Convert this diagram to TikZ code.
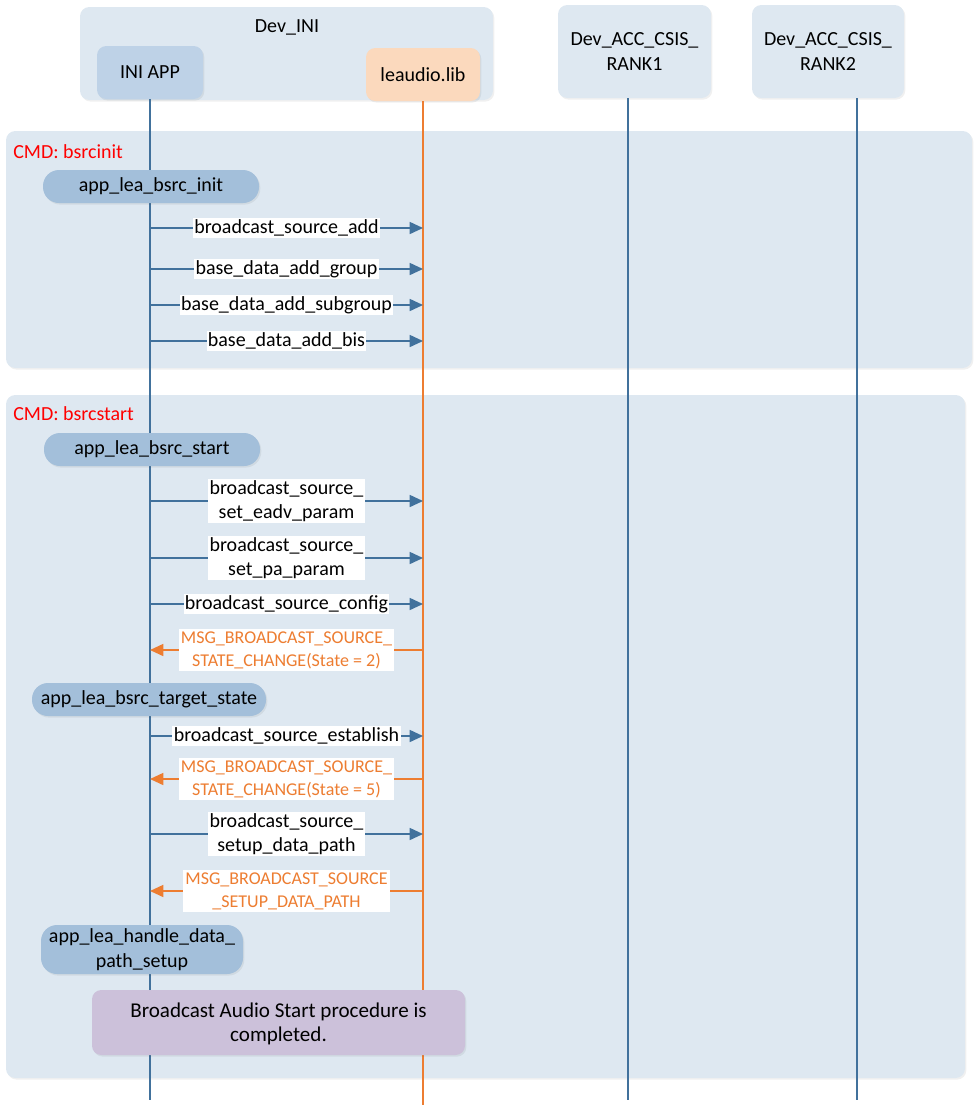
\documentclass[tikz,border=0pt]{standalone}
\usepackage{fontspec}
\setmainfont{Carlito}
\usetikzlibrary{arrows.meta,shadows,fit}
\definecolor{secfill}{HTML}{DEE8F1}
\definecolor{pillfill}{HTML}{A3BFDA}
\definecolor{appfill}{HTML}{BED2E7}
\definecolor{libfill}{HTML}{FBD9BD}
\definecolor{lblue}{HTML}{41719C}
\definecolor{lorange}{HTML}{ED7D31}
\definecolor{purpfill}{HTML}{CCC1DA}
\definecolor{cmdred}{HTML}{FF0000}
\begin{document}
\begin{tikzpicture}[x=0.75pt,y=-0.75pt,
  every node/.style={font=\fontsize{15}{18}\selectfont, inner sep=0pt, text=black},
  shad/.style={drop shadow={shadow xshift=1pt, shadow yshift=-1.2pt, fill=black, opacity=0.06}},
  grp/.style={fill=secfill, rounded corners=7pt, draw=none, shad},
  appbox/.style={fill=appfill, rounded corners=7pt, draw=none, shad},
  libbox/.style={fill=libfill, rounded corners=7pt, draw=none, shad},
  pill/.style={fill=pillfill, rounded corners=12pt, draw=none, shad},
  donebox/.style={fill=purpfill, rounded corners=7pt, draw=none, shad},
  life/.style={draw=lblue, line width=1.2pt},
  lifeo/.style={draw=lorange, line width=1.2pt},
  msg/.style={draw=lblue, line width=1.2pt, -{Triangle[length=10pt,width=9pt]}},
  msgo/.style={draw=lorange, line width=1.2pt, -{Triangle[length=10pt,width=9pt]}},
  lbl/.style={fill=white, inner xsep=1pt, inner ysep=1pt, align=center, font=\fontsize{15}{18}\selectfont},
  lblo/.style={fill=white, inner xsep=1.5pt, inner ysep=1.5pt, align=center, text=lorange, font=\fontsize{13.5}{17.2}\selectfont},
  cmd/.style={anchor=west, text=cmdred},
]
\useasboundingbox (0,0) rectangle (979,1107);

% headers
\node[grp, fit={(80,7) (493,100)}] (devini) {};
\node (devinilbl) at (287,27) {Dev\_INI};
\node[appbox, fit={(97,46) (203,99)}] (iniapp) {};
\node at (iniapp.center) {INI APP};
\node[libbox, fit={(366,48) (480,101)}] (lib) {};
\node at (lib.center) {leaudio.lib};
\node[grp, fit={(558,5) (711,98)}] (rank1) {};
\node[align=center, font=\fontsize{15}{19}\selectfont] at (rank1.center) {Dev\_ACC\_CSIS\_\\RANK1};
\node[grp, fit={(752,5) (904,98)}] (rank2) {};
\node[align=center, font=\fontsize{15}{19}\selectfont] at (rank2.center) {Dev\_ACC\_CSIS\_\\RANK2};

% sections
\node[grp, fit={(6,131) (972,368)}] (sec1) {};
\node[cmd] (cmd1) at (13,152) {CMD: bsrcinit};
\node[grp, fit={(6,395) (965,1078)}] (sec2) {};
\node[cmd] (cmd2) at (13,414) {CMD: bsrcstart};

% lifelines
\coordinate (iniBot) at (150,1100);
\coordinate (libBot) at (423,1105);
\coordinate (r1Top) at (628,98);
\coordinate (r1Bot) at (628,1100);
\coordinate (r2Top) at (857,98);
\coordinate (r2Bot) at (857,1100);
\draw[life] (iniapp.south) -- (iniBot);
\draw[lifeo] (lib.south) -- (libBot);
\draw[life] (r1Top) -- (r1Bot);
\draw[life] (r2Top) -- (r2Bot);

% activity pills
\node[pill, fit={(43,170) (259,203)}] (p1) {};
\node at (p1.center) {app\_lea\_bsrc\_init};
\node[pill, fit={(44,433) (260,466)}] (p2) {};
\node at (p2.center) {app\_lea\_bsrc\_start};
\node[pill, fit={(32,683) (266,716)}] (p3) {};
\node at (p3.center) {app\_lea\_bsrc\_target\_state};
\node[pill, fit={(41,925) (243,974)}] (p4) {};
\node[align=center, font=\fontsize{15}{18.75}\selectfont] at (p4.center) {app\_lea\_handle\_data\_\\path\_setup};
\node[donebox, fit={(92,990) (465,1055)}] (done) {};
\node[align=center, font=\fontsize{15.8}{18.3}\selectfont] at ([yshift=-1pt]done.center) {Broadcast Audio Start procedure is\\completed.};

% messages
\foreach \n/\y in {1/228,2/269,3/305,4/341,5/501,6/558,7/604,8/650,9/736,10/779,11/834,12/891}{
  \coordinate (a\n) at (150,\y);
  \coordinate (b\n) at (423,\y);
}
\draw[msg] (a1) -- node[lbl] (m1) {broadcast\_source\_add} (b1);
\draw[msg] (a2) -- node[lbl] (m2) {base\_data\_add\_group} (b2);
\draw[msg] (a3) -- node[lbl] (m3) {base\_data\_add\_subgroup} (b3);
\draw[msg] (a4) -- node[lbl] (m4) {base\_data\_add\_bis} (b4);
\draw[msg] (a5) -- node[lbl] (m5) {broadcast\_source\_\\set\_eadv\_param} (b5);
\draw[msg] (a6) -- node[lbl] (m6) {broadcast\_source\_\\set\_pa\_param} (b6);
\draw[msg] (a7) -- node[lbl] (m7) {broadcast\_source\_config} (b7);
\draw[msgo] (b8) -- node[lblo] (m8) {MSG\_BROADCAST\_SOURCE\_\\STATE\_CHANGE(State = 2)} (a8);
\draw[msg] (a9) -- node[lbl] (m9) {broadcast\_source\_establish} (b9);
\draw[msgo] (b10) -- node[lblo] (m10) {MSG\_BROADCAST\_SOURCE\_\\STATE\_CHANGE(State = 5)} (a10);
\draw[msg] (a11) -- node[lbl] (m11) {broadcast\_source\_\\setup\_data\_path} (b11);
\draw[msgo] (b12) -- node[lblo] (m12) {MSG\_BROADCAST\_SOURCE\\\_SETUP\_DATA\_PATH} (a12);
\end{tikzpicture}
\end{document}
